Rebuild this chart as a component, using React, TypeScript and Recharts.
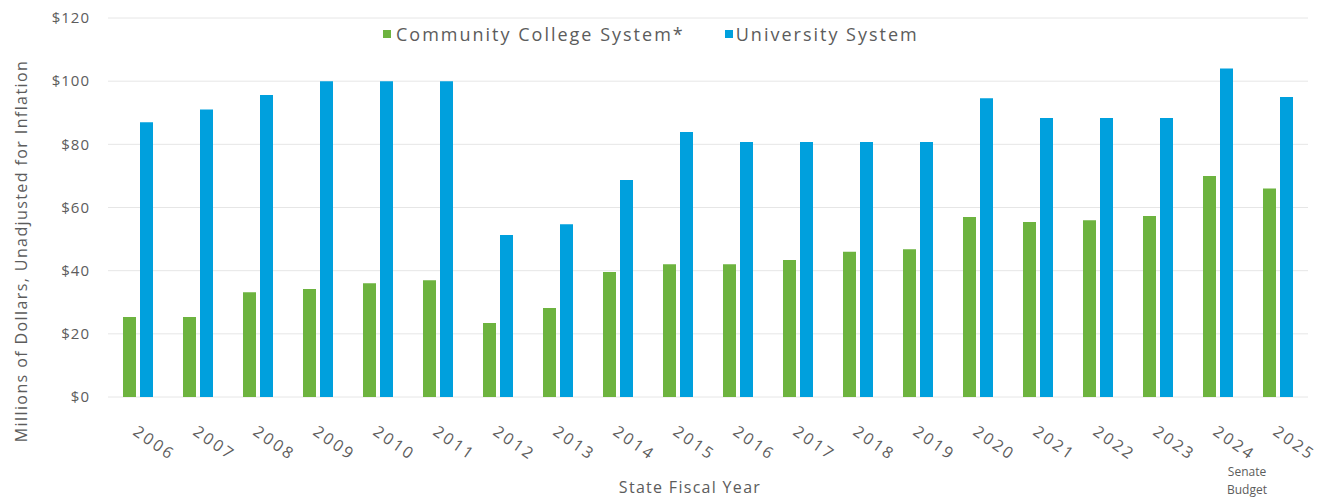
import React from "react";
import {
  BarChart,
  Bar,
  XAxis,
  YAxis,
  CartesianGrid,
  Legend,
} from "recharts";

const years = [
  "2006", "2007", "2008", "2009", "2010", "2011", "2012", "2013", "2014", "2015",
  "2016", "2017", "2018", "2019", "2020", "2021", "2022", "2023", "2024", "2025",
];

const communityCollege = [
  25.3, 25.3, 33.2, 34.2, 36, 37, 23.4, 28.2, 39.6, 42,
  42, 43.4, 46, 46.8, 57, 55.4, 56, 57.3, 70, 66,
];

const universitySystem = [
  87, 91, 95.6, 100, 100, 100, 51.3, 54.7, 68.7, 83.9,
  80.7, 80.7, 80.7, 80.7, 94.6, 88.3, 88.3, 88.3, 104, 95,
];

const yTicks = [0, 20, 40, 60, 80, 100, 120];

const GREEN = "#6db33f";
const BLUE = "#00a0dd";
const TEXT = "#5c5c5c";
const FONT = "'Open Sans', sans-serif";

const data = years.map((year, i) => ({
  year,
  cc: communityCollege[i],
  us: universitySystem[i],
}));

type TickProps = {
  x?: number;
  y?: number;
  payload?: { value: string };
};

const YearTick = ({ x = 0, y = 0, payload }: TickProps) => {
  const value = payload ? payload.value : "";
  return (
    <g transform={`translate(${x},${y})`}>
      <text
        x={0}
        y={0}
        transform="translate(-6,29) rotate(35)"
        textAnchor="start"
        fill={TEXT}
        fontSize={16}
        letterSpacing={2.6}
        fontFamily={FONT}
      >
        {value}
      </text>
      {value === "2024" && (
        <text
          x={29}
          y={71}
          textAnchor="middle"
          fill={TEXT}
          fontSize={12}
          fontFamily={FONT}
        >
          <tspan x={29} dy={0}>Senate</tspan>
          <tspan x={29} dy={18}>Budget</tspan>
        </text>
      )}
    </g>
  );
};

const YLabel = () => (
  <text
    transform="translate(27,251) rotate(-90)"
    textAnchor="middle"
    fill={TEXT}
    fontSize={16}
    letterSpacing={1.4}
    fontFamily={FONT}
  >
    Millions of Dollars, Unadjusted for Inflation
  </text>
);

const LegendContent = () => (
  <div
    style={{
      display: "flex",
      alignItems: "center",
      fontFamily: FONT,
      fontSize: 18,
      fontWeight: 500,
      color: TEXT,
      letterSpacing: 2,
      whiteSpace: "nowrap",
    }}
  >
    <span style={{ width: 8, height: 8, background: GREEN, marginRight: 5 }} />
    <span>Community College System*</span>
    <span style={{ width: 8, height: 8, background: BLUE, marginLeft: 40, marginRight: 3 }} />
    <span>University System</span>
  </div>
);

export default function App() {
  return (
    <div style={{ position: "absolute", left: 0, top: 0, background: "#fff" }}>
      <BarChart
        width={1330}
        height={497}
        data={data}
        margin={{ top: 18, right: 22, bottom: 0, left: 0 }}
        barSize={13}
        barGap={4}
      >
        <CartesianGrid vertical={false} stroke="#e6e6e6" />
        <XAxis
          dataKey="year"
          axisLine={false}
          tickLine={false}
          height={100}
          interval={0}
          tick={<YearTick />}
          label={{
            value: "State Fiscal Year",
            position: "insideBottom",
            offset: 4,
            dx: -18,
            fill: TEXT,
            fontSize: 16,
            fontFamily: FONT,
            letterSpacing: 1.3,
          }}
        />
        <YAxis
          width={108}
          domain={[0, 120]}
          ticks={yTicks}
          axisLine={false}
          tickLine={false}
          tickMargin={12}
          tickFormatter={(v: number) => `$${v}`}
          tick={{ fill: TEXT, fontSize: 15, fontFamily: FONT, letterSpacing: 1 }}
          label={<YLabel />}
        />
        <Legend
          verticalAlign="middle"
          align="center"
          content={<LegendContent />}
          wrapperStyle={{ top: 22, left: 383, width: "auto" }}
        />
        <Bar dataKey="cc" name="Community College System*" fill={GREEN} isAnimationActive={false} />
        <Bar dataKey="us" name="University System" fill={BLUE} isAnimationActive={false} />
      </BarChart>
    </div>
  );
}
